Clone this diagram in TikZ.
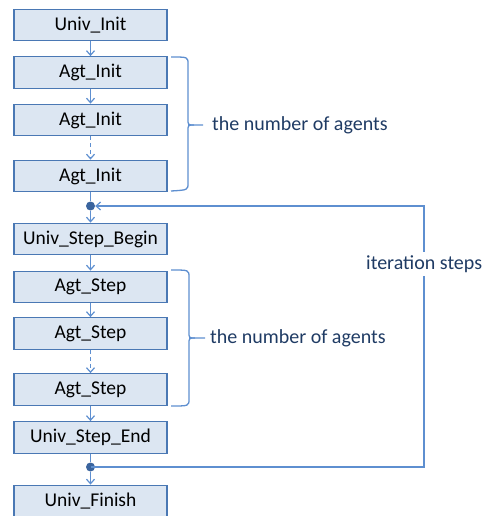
\documentclass[tikz,border=0pt]{standalone}
\usepackage{fontspec}
\setmainfont{Carlito}
\usetikzlibrary{arrows.meta}
\definecolor{boxfill}{HTML}{DCE6F2}
\definecolor{boxdraw}{HTML}{4A78B4}
\definecolor{linec}{HTML}{5E8FD0}
\definecolor{dotc}{HTML}{3A649E}
\definecolor{labc}{HTML}{1F3B64}
\tikzset{
  stepbox/.style={draw=boxdraw, fill=boxfill, line width=1.3pt, minimum width=153pt, minimum height=31.5pt, inner sep=0pt, font=\fontsize{19.5}{22}\selectfont, text=black},
  conn/.style={draw=linec, line width=1.3pt},
  arr/.style={conn, -{Straight Barb[length=4.5pt,width=8pt,line width=1.2pt]}},
  darr/.style={arr, dash pattern=on 4pt off 3pt},
  brc/.style={draw=linec, line width=1.3pt},
  lab/.style={font=\fontsize{20}{22}\selectfont, text=labc, anchor=west, inner sep=0pt},
  jdot/.style={circle, fill=dotc, minimum size=9pt, inner sep=0pt}
}
\begin{document}
\begin{tikzpicture}[x=1pt,y=-1pt]
\useasboundingbox (0,0) rectangle (487,516);
\node[stepbox] (ui) at (90.5,25) {Univ\_Init};
\node[stepbox] (ai1) at (90.5,72.5) {Agt\_Init};
\node[stepbox] (ai2) at (90.5,120) {Agt\_Init};
\node[stepbox] (ai3) at (90.5,176) {Agt\_Init};
\node[jdot] (d1) at (90.5,206) {};
\node[stepbox] (usb) at (90.5,239) {Univ\_Step\_Begin};
\node[stepbox] (as1) at (90.5,287) {Agt\_Step};
\node[stepbox] (as2) at (90.5,333.5) {Agt\_Step};
\node[stepbox] (as3) at (90.5,389.5) {Agt\_Step};
\node[stepbox] (use) at (90.5,437.5) {Univ\_Step\_End};
\node[jdot] (d2) at (90.5,467) {};
\node[stepbox] (uf) at (90.5,501) {Univ\_Finish};

\draw[arr] (ui) -- (ai1);
\draw[arr] (ai1) -- (ai2);
\draw[darr] (ai2) -- (ai3);
\draw[conn] (ai3) -- (d1);
\draw[arr] (d1) -- (usb);
\draw[arr] (usb) -- (as1);
\draw[arr] (as1) -- (as2);
\draw[darr] (as2) -- (as3);
\draw[arr] (as3) -- (use);
\draw[conn] (use) -- (d2);
\draw[arr] (d2) -- (uf);

\coordinate (c1) at (424,206);
\coordinate (c2) at (424,467);
\draw[arr] (d2.center) -- (c2) -- (c1) -- (d1);
\node[lab, fill=white, inner xsep=1pt, inner ysep=3pt] (it) at (365,264) {iteration steps};

% braces
\draw[brc] (171,57) .. controls (188,57) .. (188,64) -- (188,119) .. controls (188,125) .. (194,125) -- (203,125);
\draw[brc] (194,125) .. controls (188,125) .. (188,131) -- (188,183) .. controls (188,190) .. (171,191);
\node[lab] (l1) at (212,125) {the number of agents};

\draw[brc] (171,270) .. controls (189,270) .. (189,277) -- (189,332) .. controls (189,338) .. (195,338) -- (205,338);
\draw[brc] (195,338) .. controls (189,338) .. (189,344) -- (189,399) .. controls (189,406) .. (171,406);
\node[lab] (l2) at (210,338) {the number of agents};
\end{tikzpicture}
\end{document}
